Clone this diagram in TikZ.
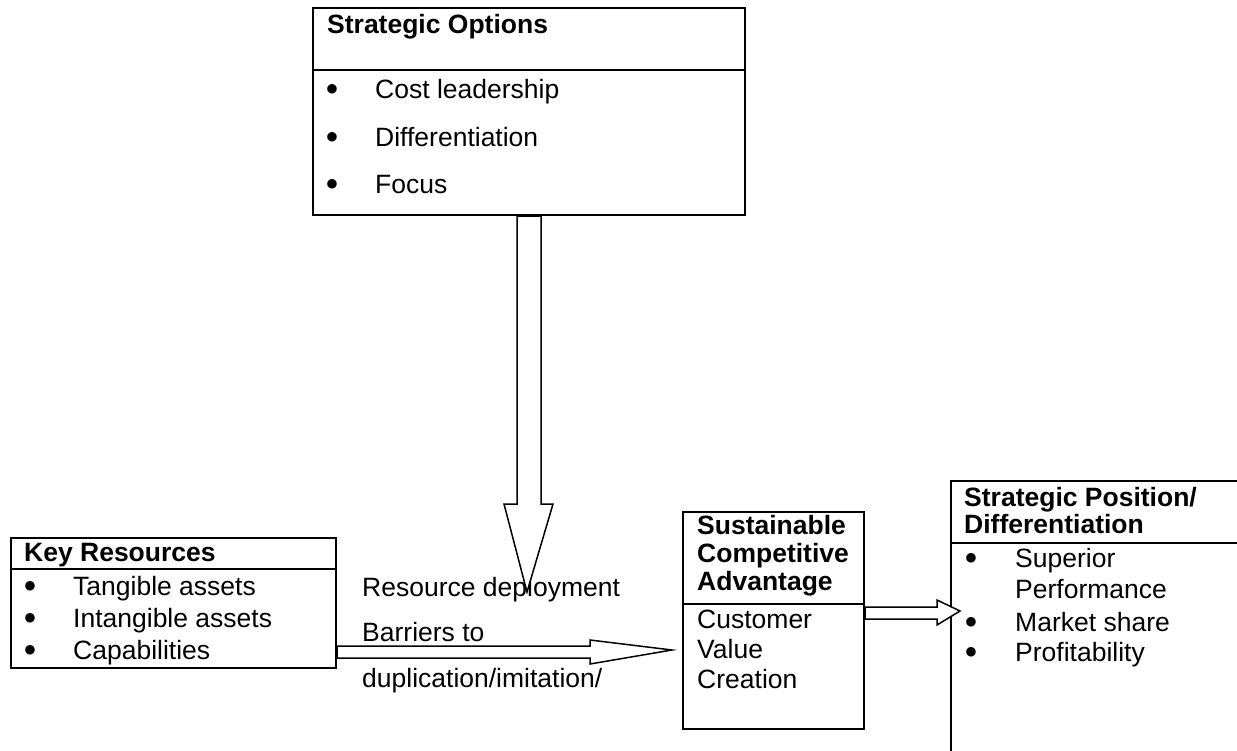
\documentclass[tikz,border=0pt]{standalone}
\usepackage{fontspec}
\setmainfont{Liberation Sans}
\newfontfamily\bulletfont{DejaVu Sans}
\usetikzlibrary{calc}
\begin{document}
\begin{tikzpicture}[x=1pt,y=-1pt,
  boxframe/.style={draw=black, line width=2pt, inner sep=0pt, anchor=north west},
  rule/.style={draw=black, line width=2pt},
  txt/.style={anchor=base west, inner sep=0pt, font=\fontsize{26.5}{30}\selectfont},
  hdr/.style={anchor=base west, inner sep=0pt, font=\fontsize{26.5}{30}\selectfont\bfseries},
  dot/.style={anchor=base, inner sep=0pt, yshift=5.5pt, font=\bulletfont\fontsize{12.5}{12.5}\selectfont},
  blockarrow/.style={draw=black, fill=white, line width=1.5pt, line join=miter}]
\useasboundingbox (0,0) rectangle (1237,750);
\clip (0,0) rectangle (1237,750);

% ---- frames ----
\node[boxframe, minimum width=432pt, minimum height=207pt] (optbox) at (312,7) {};
\node[boxframe, minimum width=325pt, minimum height=130pt] (krbox) at (10,537) {};
\node[boxframe, minimum width=181pt, minimum height=217pt] (scabox) at (682,511) {};
\node[boxframe, minimum width=400pt, minimum height=400pt] (spbox) at (950,480) {};

% header rules
\draw[rule] ($(optbox.north west)+(0,63)$) -- ($(optbox.north east)+(0,63)$);
\draw[rule] ($(krbox.north west)+(0,32)$) -- ($(krbox.north east)+(0,32)$);
\draw[rule] ($(scabox.north west)+(0,93)$) -- ($(scabox.north east)+(0,93)$);
\draw[rule] ($(spbox.north west)+(0,63)$) -- ($(spbox.north east)+(0,63)$);

% ---- Strategic Options ----
\node[hdr] (opttitle) at (327,33) {Strategic Options};
\node[dot] (ob1) at (332,98) {●};
\node[txt] (o1) at (375,98) {Cost leadership};
\node[dot] (ob2) at (332,146) {●};
\node[txt] (o2) at (375,146) {Differentiation};
\node[dot] (ob3) at (332,193) {●};
\node[txt] (o3) at (375,193) {Focus};

% ---- Key Resources ----
\node[hdr] (krtitle) at (24,561) {Key Resources};
\node[dot] (kb1) at (30,595) {●};
\node[txt] (k1) at (73,595) {Tangible assets};
\node[dot] (kb2) at (30,627) {●};
\node[txt] (k2) at (73,627) {Intangible assets};
\node[dot] (kb3) at (30,659) {●};
\node[txt] (k3) at (73,659) {Capabilities};

% ---- Sustainable Competitive Advantage ----
\node[hdr] (s1) at (697,534) {Sustainable};
\node[hdr] (s2) at (697,562) {Competitive};
\node[hdr] (s3) at (697,590) {Advantage};
\node[txt] (c1) at (697,628) {Customer};
\node[txt] (c2) at (697,658) {Value};
\node[txt] (c3) at (697,688) {Creation};

% ---- Strategic Position ----
\node[hdr] (p1) at (964,506) {Strategic Position/};
\node[hdr] (p2) at (964,533) {Differentiation};
\node[dot] (pb1) at (971,567) {●};
\node[txt] (q1) at (1015,567) {Superior};
\node[txt] (q2) at (1015,598) {Performance};
\node[dot] (pb2) at (971,631) {●};
\node[txt] (q3) at (1015,631) {Market share};
\node[dot] (pb3) at (971,661) {●};
\node[txt] (q4) at (1015,661) {Profitability};

% ---- labels between the boxes ----
\node[txt] (deploy) at (362,596) {Resource deployment};
\node[txt] (barr) at (362,641) {Barriers to};
\node[txt] (dupl) at (362,687) {duplication/imitation/};

% ---- block arrows ----
\coordinate (tipA) at (527,592);
\draw[blockarrow] ($(optbox.south)+(-12,0)$) -- ($(optbox.south)+(-12,288)$)
  -- ($(optbox.south)+(-25,288)$) -- (tipA) -- ($(optbox.south)+(24,288)$)
  -- ($(optbox.south)+(12,288)$) -- ($(optbox.south)+(12,0)$) -- cycle;

\coordinate (tipB) at (672,650);
\draw[blockarrow] ($(krbox.south east)+(0,-23)$) -- ($(krbox.south east)+(253,-23)$)
  -- ($(krbox.south east)+(253,-29)$) -- (tipB) -- ($(krbox.south east)+(253,-5)$)
  -- ($(krbox.south east)+(253,-11)$) -- ($(krbox.south east)+(0,-11)$) -- cycle;

\coordinate (tipC) at ($(spbox.north west)+(10,131)$);
\draw[blockarrow] ($(scabox.south east)+(0,-123)$) -- ($(scabox.south east)+(72,-123)$)
  -- ($(scabox.south east)+(72,-130)$) -- (tipC) -- ($(scabox.south east)+(72,-105)$)
  -- ($(scabox.south east)+(72,-111)$) -- ($(scabox.south east)+(0,-111)$) -- cycle;
\end{tikzpicture}
\end{document}
